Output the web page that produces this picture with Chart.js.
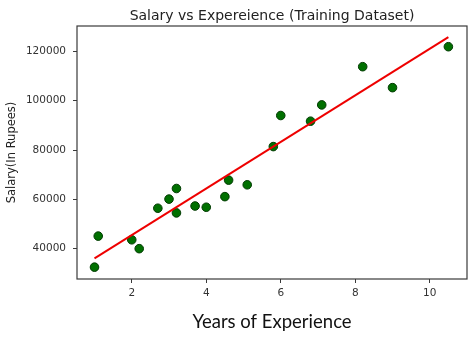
<!DOCTYPE html>
<html>
<head>
<meta charset="utf-8">
<script src="https://cdn.jsdelivr.net/npm/chart.js@4.4.0/dist/chart.umd.min.js"></script>
<style>
  html, body { margin: 0; padding: 0; background: #fff; }
  canvas { display: block; }
</style>
</head>
<body>
<canvas id="chart-salary" width="474" height="343"></canvas>
<script>
// training points
const experience = [1.0, 1.1, 2.0, 2.2, 2.7, 3.0, 3.2, 3.2, 3.7, 4.0, 4.5, 4.6, 5.1, 5.8, 6.0, 6.8, 7.1, 8.2, 9.0, 10.5];
const salary = [32500, 45100, 43600, 40000, 56400, 60100, 64400, 54500, 57300, 56800, 61100, 67800, 65900, 81400, 94000, 91700, 98300, 113800, 105300, 121900];

// regression line ends
const lineX = [1.0, 10.5];
const lineY = [36100, 125800];

const xTicks = [2, 4, 6, 8, 10];
const yTicks = [40000, 60000, 80000, 100000, 120000];

const titleText = 'Salary vs Expereience (Training Dataset)';

const frameColor = '#3a3a3a';

// matplotlib-like: title over the plot area plus a full frame
const framePlugin = {
	id: 'frame',
	afterDraw(chart) {
		const {ctx, chartArea} = chart;
		ctx.save();
		ctx.strokeStyle = frameColor;
		ctx.lineWidth = 1.2;
		ctx.strokeRect(chartArea.left, chartArea.top,
			chartArea.right - chartArea.left, chartArea.bottom - chartArea.top);
		ctx.fillStyle = '#222';
		ctx.font = '14px "DejaVu Sans"';
		ctx.textAlign = 'center';
		ctx.textBaseline = 'alphabetic';
		ctx.fillText(titleText, (chartArea.left + chartArea.right) / 2, chartArea.top - 6);
		ctx.restore();
	}
};

const tickFont = { family: 'DejaVu Sans', size: 10.5 };

const ctx = document.getElementById('chart-salary').getContext('2d');
const myChart = new Chart(ctx, {
	data: {
		datasets: [{
			type: 'line',
			data: lineX.map((x, i) => ({x: x, y: lineY[i]})),
			borderColor: '#ee0000',
			borderWidth: 2,
			pointRadius: 0,
			fill: false,
			order: 0
		}, {
			type: 'scatter',
			data: experience.map((x, i) => ({x: x, y: salary[i]})),
			backgroundColor: '#007000',
			borderColor: '#003a00',
			borderWidth: 1,
			pointRadius: 4.3,
			order: 1
		}]
	},
	options: {
		responsive: false,
		animation: false,
		layout: {
			padding: { left: 0, right: 7, top: 26, bottom: 0 }
		},
		plugins: {
			legend: { display: false },
			tooltip: { enabled: false }
		},
		scales: {
			x: {
				type: 'linear',
				min: 0.53,
				max: 11.0,
				afterBuildTicks: (scale) => { scale.ticks = xTicks.map(v => ({value: v})); },
				afterFit: (scale) => { scale.height = 64; },
				grid: { drawOnChartArea: false, tickLength: 4, color: frameColor },
				border: { display: false },
				ticks: { font: tickFont, color: '#333', padding: 4, maxRotation: 0 },
				title: {
					display: true,
					text: 'Years of Experience',
					font: { family: 'Lato', size: 18.5 },
					color: '#111',
					padding: { top: 0, bottom: 10 }
				}
			},
			y: {
				type: 'linear',
				min: 27700,
				max: 130300,
				afterBuildTicks: (scale) => { scale.ticks = yTicks.map(v => ({value: v})); },
				afterFit: (scale) => { scale.width = 77; },
				grid: { drawOnChartArea: false, tickLength: 4, color: frameColor },
				border: { display: false },
				ticks: { font: tickFont, color: '#333', padding: 7, callback: (v) => String(v) },
				title: {
					display: true,
					text: 'Salary(In Rupees)',
					font: { family: 'DejaVu Sans', size: 11.5 },
					color: '#222',
					padding: { top: 5, bottom: 0 }
				}
			}
		}
	},
	plugins: [framePlugin]
});
</script>
</body>
</html>
